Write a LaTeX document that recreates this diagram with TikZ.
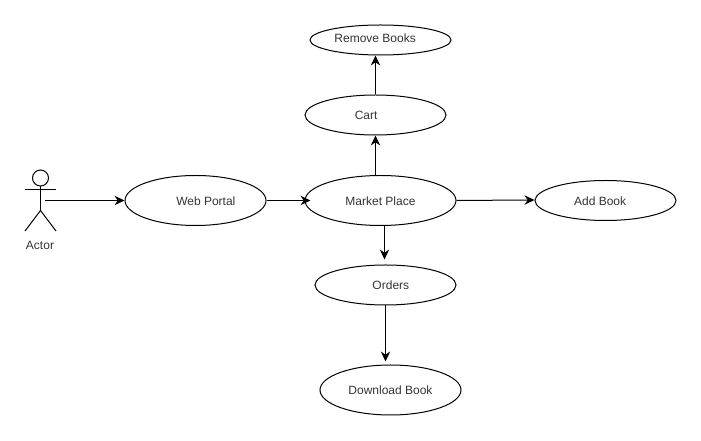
\documentclass[tikz,border=0pt]{standalone}
\usepackage{fontspec}
\setmainfont{Liberation Sans}
\usetikzlibrary{positioning, arrows.meta, shapes.geometric}
\tikzset{
	usecase/.style={ellipse, draw=black, line width=0.75pt, minimum width=105.75pt, inner sep=0pt, text=black!80, font=\fontsize{9}{11}\selectfont, text height=7.5pt, text depth=0pt},
	flow/.style={-{Stealth[length=7.5pt, width=7pt]}, line width=0.75pt, black},
	stick/.style={line width=0.75pt, black}
}

\begin{document}
\begin{tikzpicture}[x=0.75pt, y=-0.75pt]
	\useasboundingbox (0,0) rectangle (701,441);
	% actor
	\node (head) at (40.5,178)[circle, draw=black, line width=0.75pt, minimum size=12pt, inner sep=0pt]{};
	\coordinate (hip) at (40.5,210.5);
	\coordinate (armleft) at (25,190);
	\coordinate (armright) at (56,190);
	\coordinate (footleft) at (25,231);
	\coordinate (footright) at (56,231);
	\coordinate (actorout) at (45,200.5);
	\draw[stick] (head.south) -- (hip);
	\draw[stick] (armleft) -- (armright);
	\draw[stick] (footleft) -- (hip) -- (footright);
	\node (actor) at (40,245)[text=black!80, font=\fontsize{9}{11}\selectfont, inner sep=0pt]{Actor};
	% use cases
	\node (webportal) at (195.5,200.5)[usecase, minimum height=37.5pt]{\hspace{15.5pt}Web Portal};
	\node (market) at (380.5,200.5)[usecase, minimum width=113.25pt, minimum height=37.5pt]{Market Place};
	\node (addbook) at (605.5,200.5)[usecase, minimum height=30pt]{\hspace{-8pt}Add Book};
	\node (cart) at (375.5,115)[usecase, minimum height=30pt]{\hspace{-14pt}Cart};
	\node (removebooks) at (380.5,40)[usecase, minimum height=22.5pt]{\hspace{-8pt}\raisebox{2pt}{Remove Books}};
	\node (orders) at (385.5,285)[usecase, minimum height=30pt]{\hspace{8pt}Orders};
	\node (download) at (390.5,390)[usecase, minimum height=37.5pt]{Download Book};
	% connectors
	\draw[flow] (actorout) -- (webportal.west);
	\draw[flow, shorten >=-4.5pt] (webportal.east) -- (market.west);
	\draw[flow] (market.east) -- ([yshift=0.4pt]addbook.west);
	\draw[flow] (market.north -| cart.south) -- (cart.south);
	\draw[flow] (cart.north) -- (cart.north |- removebooks.south);
	\draw[flow, shorten >=3.75pt] ([xshift=-0.75pt]market.south -| orders.north) -- ([xshift=-0.75pt]orders.north);
	\draw[flow, shorten >=2.25pt] (orders.south) -- (orders.south |- download.north);
\end{tikzpicture}
\end{document}
